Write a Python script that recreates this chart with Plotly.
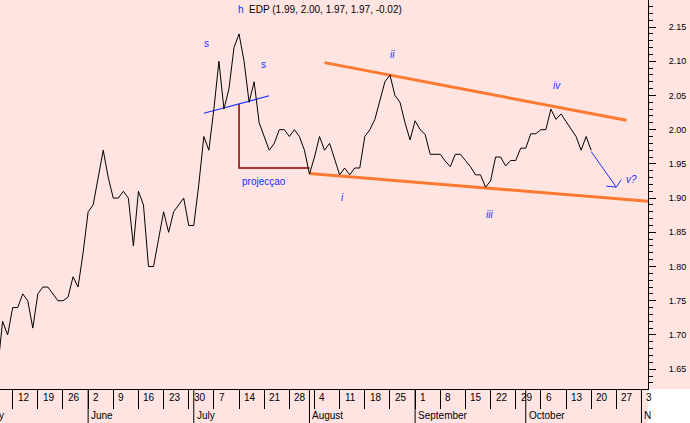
import pandas as pd
import plotly.graph_objects as go

# ---------------- data ----------------
start_date = "2003-05-07"
closes = [
    1.65, 1.72, 1.70,
    1.74, 1.74, 1.76, 1.75, 1.71, 1.76, 1.77, 1.77, 1.76, 1.75,
    1.75, 1.755, 1.785, 1.77, 1.82, 1.88, 1.89, 1.93, 1.97, 1.93,
    1.90, 1.90, 1.91, 1.90, 1.83, 1.91, 1.89, 1.80, 1.80, 1.84,
    1.88, 1.85, 1.88, 1.89, 1.90, 1.86, 1.86, 1.92, 1.99, 1.97,
    2.03, 2.10, 2.03, 2.06, 2.12, 2.14, 2.10, 2.04, 2.07, 2.01,
    1.99, 1.97, 1.98, 2.00, 2.00, 1.99, 2.00, 1.99, 1.97, 1.935,
    1.96, 1.99, 1.97, 1.98, 1.957, 1.934, 1.944, 1.934, 1.944, 1.944,
    1.99, 2.00, 2.015, 2.044, 2.07, 2.08, 2.05, 2.04, 2.01, 1.985,
    2.013, 2.00, 1.993, 1.964, 1.964, 1.964, 1.954, 1.946, 1.964, 1.964,
    1.955, 1.946, 1.934, 1.934, 1.916, 1.925, 1.96, 1.96, 1.947, 1.955,
    1.955, 1.973, 1.973, 1.994, 1.994, 2.00, 2.00, 2.03, 2.015, 2.023,
    2.012, 2.00, 1.99, 1.97, 1.99, 1.97,
]
holidays = ["2003-05-01"]
month_names = ["May", "June", "July", "August", "September", "October", "N"]

upper_trend_dates = ["2003-08-06", "2003-10-29"]
upper_trend_vals = [2.098, 2.0137]
lower_trend_dates = ["2003-08-01", "2003-11-05"]
lower_trend_vals = [1.936, 1.895]
neck_dates = ["2003-07-03", "2003-07-22"]
neck_vals = [2.024, 2.0496]
proj_dates = ["2003-07-14", "2003-07-14", "2003-08-01"]
proj_vals = [2.038, 1.944, 1.944]
arrow_dates = ["2003-10-20", "2003-10-27"]
arrow_vals = [1.968, 1.916]
arrow_head_dates = ["2003-10-23", "2003-10-27", "2003-10-28"]
arrow_head_vals = [1.9175, 1.916, 1.927]

title_text = "EDP (1.99, 2.00, 1.97, 1.97, -0.02)"

# ---------------- trading-day scale ----------------
cal = pd.bdate_range("2003-05-01", "2003-11-07")
cal = cal[~cal.isin(pd.to_datetime(holidays))]
pos = {d: i for i, d in enumerate(cal)}


def X(dates):
    return [pos[pd.Timestamp(d)] for d in dates]


data_dates = pd.bdate_range(start_date, periods=len(closes))
xs = X(data_dates)

ref = pos[pd.Timestamp("2003-05-12")]
r0, r1 = ref - 2.52, ref + 126.3
y0, y1 = 1.621, 2.1895


def px(i):
    return (i - r0) / (r1 - r0)


def D(d):  # position offset in trading days from 12 May
    return ref + d


PINK = "#FFE4E1"
ORANGE = "#FF7A30"
BLUE = "#1530FF"
DARKRED = "#8B0000"

fig = go.Figure()
fig.add_trace(go.Scatter(x=X(upper_trend_dates), y=upper_trend_vals, mode="lines",
                         line=dict(color=ORANGE, width=3), hoverinfo="skip"))
fig.add_trace(go.Scatter(x=X(lower_trend_dates), y=lower_trend_vals, mode="lines",
                         line=dict(color=ORANGE, width=3), hoverinfo="skip"))
fig.add_trace(go.Scatter(x=X(proj_dates), y=proj_vals, mode="lines",
                         line=dict(color=DARKRED, width=1.5), hoverinfo="skip"))
fig.add_trace(go.Scatter(x=X(neck_dates), y=neck_vals, mode="lines",
                         line=dict(color=BLUE, width=1.2), hoverinfo="skip"))
fig.add_trace(go.Scatter(x=xs, y=closes, mode="lines",
                         line=dict(color="black", width=1)))
fig.add_trace(go.Scatter(x=X(arrow_dates), y=arrow_vals, mode="lines",
                         line=dict(color=BLUE, width=1), hoverinfo="skip"))
fig.add_trace(go.Scatter(x=X(arrow_head_dates), y=arrow_head_vals, mode="lines",
                         line=dict(color=BLUE, width=1), hoverinfo="skip"))

anns = []
FONT = "Liberation Sans, Arial, sans-serif"
# title
anns.append(dict(xref="paper", yref="paper", x=320 / 648, y=1 - 9 / 389,
                 text='<span style="color:%s">h</span>&nbsp;&nbsp;%s' % (BLUE, title_text),
                 showarrow=False, xanchor="center", yanchor="middle",
                 font=dict(family=FONT, size=10, color="black")))
# wave labels
labels = [("s", 38.6, 2.1266), ("s", 49.8, 2.0959), ("projecçao", 50.0, 1.9249),
          ("<i>i</i>", 65.5, 1.9015), ("<i>ii</i>", 75.6, 2.1105), ("<i>iii</i>", 94.7, 1.8766),
          ("<i>iv</i>", 108.2, 2.0652), ("<i>v?</i>", 123.1, 1.9278)]
for t, d, v in labels:
    anns.append(dict(x=D(d), y=v, xref="x", yref="y", text=t, showarrow=False,
                     xanchor="center", yanchor="middle",
                     font=dict(family=FONT, size=10, color=BLUE)))

# week labels (Mondays)
mondays = [i for i, d in enumerate(cal) if d.weekday() == 0 and r0 <= i <= r1]
for i in mondays:
    anns.append(dict(xref="paper", yref="paper", x=px(i), y=-9 / 389, xshift=3,
                     text=str(cal[i].day), showarrow=False, xanchor="left", yanchor="middle",
                     font=dict(family=FONT, size=10, color="black")))

# month labels and separators
month_first = [i for i, d in enumerate(cal) if i == 0 or cal[i - 1].month != d.month]
shapes = []
for name, i in zip(month_names, month_first):
    anns.append(dict(xref="paper", yref="paper", x=px(i), y=-27 / 389, xshift=1,
                     text=name, showarrow=False, xanchor="left", yanchor="middle",
                     font=dict(family=FONT, size=10, color="black")))
    if r0 <= i <= r1:
        shapes.append(dict(type="line", xref="paper", yref="paper", x0=px(i), x1=px(i),
                           y0=0, y1=-34 / 389, line=dict(color="black", width=1)))
# white lower-right corner
shapes.append(dict(type="rect", xref="paper", yref="paper", x0=1, x1=1 + 42 / 648,
                   y0=-34 / 389, y1=0, fillcolor="white", line=dict(width=0), layer="below"))

fig.update_layout(
    width=690, height=423, margin=dict(l=0, r=42, t=0, b=34),
    paper_bgcolor=PINK, plot_bgcolor=PINK, showlegend=False,
    annotations=anns, shapes=shapes,
    xaxis=dict(range=[r0, r1], showgrid=False, zeroline=False, showline=True,
               linecolor="black", linewidth=1, tickmode="array", tickvals=mondays,
               ticks="outside", ticklen=19, tickcolor="black", tickwidth=1,
               showticklabels=False),
    yaxis=dict(side="right", range=[y0, y1], showgrid=False, zeroline=False,
               showline=True, linecolor="black", linewidth=1,
               tickmode="linear", tick0=0, dtick=0.05, tickformat=".2f",
               ticks="outside", ticklen=7, tickcolor="black",
               minor=dict(dtick=0.01, tick0=0, ticks="outside", ticklen=4,
                          tickcolor="black", showgrid=False),
               tickfont=dict(family=FONT, size=9, color="black"),
               ticklabelstandoff=11),
)

fig.write_html("out.html", config={"displayModeBar": False},
               post_script="document.body.style.margin='0px';document.body.style.overflow='hidden';")
